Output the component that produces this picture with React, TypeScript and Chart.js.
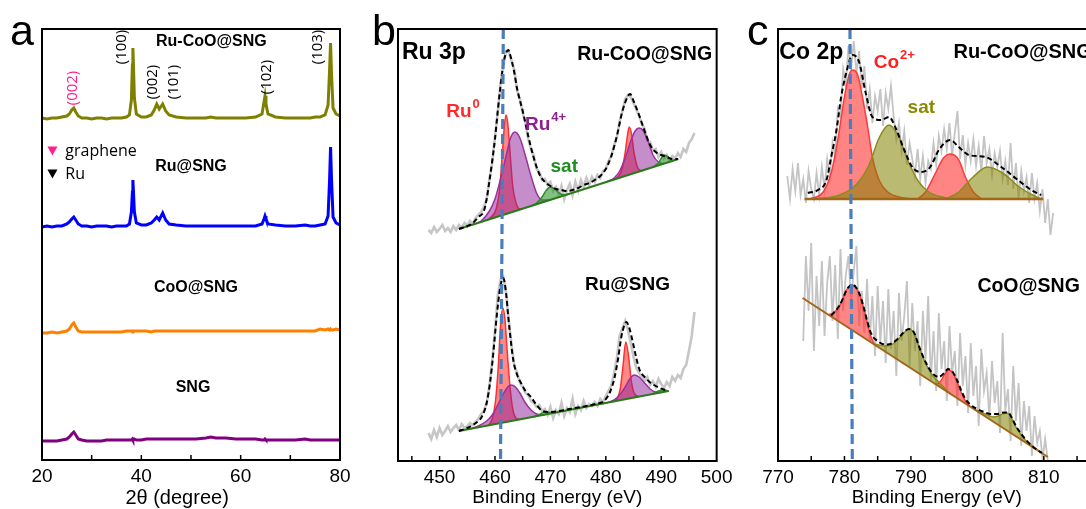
import React, { useEffect, useRef } from 'react';
import { Chart, registerables } from 'chart.js';

Chart.register(...registerables);

// ---------------- Panel a : XRD ----------------
const xrdTheta = [
  20, 21, 22, 23, 24, 25, 25.5, 26, 26.4, 26.8,
  27.3, 28, 29, 30, 31, 32, 33, 34, 35, 36,
  37, 37.6, 38.0, 38.2, 38.3, 38.4, 38.6, 39.0, 40, 41,
  42, 42.6, 43.1, 43.6, 44.3, 44.9, 45.6, 47, 49, 51,
  53, 54, 55, 57, 59, 61, 63, 64.3, 64.7, 64.9,
  65.1, 65.5, 67, 69, 71, 73, 74, 75, 76, 77,
  77.6, 77.9, 78.1, 78.3, 78.6, 79.2, 80,
];
const xrdRuCoO = [
  342, 341, 342, 342, 343, 344, 346, 350, 352, 348,
  344, 342, 342, 341, 342, 342, 341, 342, 342, 342,
  343, 345, 360, 395, 412, 398, 362, 346, 343, 343,
  345, 350, 356, 351, 356, 349, 345, 343, 342, 342,
  342, 343, 342, 342, 342, 342, 343, 346, 358, 364,
  356, 346, 343, 342, 342, 342, 342, 343, 343, 345,
  355, 390, 417, 385, 352, 346, 344,
];
const xrdRu = [
  233, 234, 233, 234, 234, 236, 238, 241, 243, 240,
  236, 234, 234, 233, 234, 234, 234, 233, 234, 234,
  234, 236, 248, 268, 280, 270, 248, 237, 235, 235,
  237, 240, 243, 240, 247, 240, 236, 235, 234, 234,
  234, 234, 234, 234, 234, 234, 234, 236, 241, 244,
  241, 236, 235, 234, 234, 235, 234, 234, 235, 236,
  244, 280, 313, 280, 243, 237, 235,
];
const xrdCoO = [
  127, 127, 128, 127, 128, 129, 131, 135, 137, 133,
  129, 128, 128, 128, 128, 128, 128, 128, 128, 128,
  129, 129, 129, 128, 129, 129, 129, 129, 129, 129,
  128, 129, 129, 129, 129, 129, 129, 129, 129, 129,
  129, 129, 129, 129, 129, 129, 129, 129, 129, 129,
  129, 129, 129, 129, 129, 129, 129, 129, 131, 130,
  131, 130, 131, 130, 130, 131, 130,
];
const xrdSNG = [
  19, 19, 19, 19, 20, 21, 23, 26, 28, 25,
  21, 20, 19, 19, 19, 19, 20, 20, 20, 20,
  20, 20, 20, 21, 20, 20, 21, 20, 20, 21,
  21, 21, 21, 21, 21, 21, 21, 21, 21, 21,
  22, 23, 22, 22, 21, 21, 21, 20, 20, 21,
  20, 20, 20, 20, 20, 21, 20, 20, 20, 20,
  20, 20, 20, 20, 20, 20, 20,
];
const xrdTickLabels = [20, 40, 60, 80];
const xrdMinorTicks = [30, 40, 50, 60, 70];

// ---------------- Panel b : Ru 3p ----------------
const ruRawX = [
  448, 448.5, 449, 449.5, 450, 450.5, 451, 451.5, 452, 452.5,
  453, 453.5, 454, 454.5, 455, 455.5, 456, 456.5, 457, 457.5,
  458, 458.5, 459, 459.5, 460, 460.5, 461, 461.5, 462, 462.5,
  463, 463.5, 464, 464.5, 465, 465.5, 466, 466.5, 467, 467.5,
  468, 468.5, 469, 469.5, 470, 470.5, 471, 471.5, 472, 472.5,
  473, 473.5, 474, 474.5, 475, 475.5, 476, 476.5, 477, 477.5,
  478, 478.5, 479, 479.5, 480, 480.5, 481, 481.5, 482, 482.5,
  483, 483.5, 484, 484.5, 485, 485.5, 486, 486.5, 487, 487.5,
  488, 488.5, 489, 489.5, 490, 490.5, 491, 491.5, 492, 492.5,
  493, 493.5, 494, 494.5, 495, 495.5, 496,
];
const ruCoORaw = [
  231, 228, 234, 229, 232, 236, 230, 233, 229, 235,
  231, 236, 233, 238, 235, 240, 237, 243, 246, 249,
  254, 262, 282, 298, 324, 348, 377, 395, 410, 409,
  400, 391, 370, 362, 348, 338, 322, 312, 305, 292,
  289, 281, 282, 276, 279, 270, 274, 266, 275, 262,
  271, 277, 266, 279, 270, 281, 274, 283, 276, 284,
  279, 286, 283, 290, 292, 300, 305, 316, 324, 340,
  350, 362, 366, 364, 358, 352, 345, 337, 332, 320,
  319, 310, 312, 304, 309, 302, 306, 300, 305, 302,
  308, 304, 312, 309, 318, 322, 328,
];
const ruRaw = [
  28, 22, 31, 24, 33, 26, 30, 35, 29, 33,
  36, 31, 37, 33, 35, 38, 36, 39, 42, 47,
  50, 58, 75, 100, 130, 165, 181, 184, 168, 140,
  115, 95, 88, 78, 74, 68, 66, 60, 58, 54,
  56, 50, 52, 46, 54, 43, 51, 47, 58, 45,
  53, 49, 62, 47, 55, 51, 60, 53, 57, 55,
  59, 55, 62, 58, 65, 70, 76, 88, 103, 125,
  133, 140, 131, 118, 104, 93, 88, 84, 80, 84,
  76, 80, 74, 82, 77, 73, 79, 75, 84, 80,
  86, 83, 92, 96, 110, 125, 149,
];
// Ru-CoO@SNG fit
const ruCoOFitX = [
  453.5, 455, 456, 457, 458, 458.5, 459, 459.5, 460, 460.5,
  461, 461.5, 462, 462.4, 462.8, 463.5, 464, 465, 466, 467,
  468, 469, 470, 471, 472, 473, 474, 475, 476, 477,
  478, 479, 480, 481, 482, 483, 484, 484.4, 485, 486,
  487, 488, 489, 490, 491, 492, 493,
];
const ruCoOFitY = [
  232, 235, 238, 244, 250, 262, 280, 300, 322, 350,
  375, 397, 408, 411, 405, 388, 372, 350, 325, 303,
  287, 279, 275, 272, 271, 270, 271, 273, 276, 278,
  281, 285, 292, 305, 325, 350, 365, 367, 360, 346,
  330, 316, 309, 306, 304, 302, 302,
];
const ruCoOBgX = [453.5, 493.1];
const ruCoOBgY = [232, 302];
const ruCoORu0aX = [458.6, 459.5, 460.2, 460.8, 461.3, 461.7, 462.0, 462.3, 462.7, 463.2, 463.8, 464.5, 465.0];
const ruCoORu0aY = [241, 245, 252, 270, 305, 335, 346, 338, 310, 275, 258, 252, 252.3];
const ruCoORu4aX = [456, 457.5, 459, 460, 461, 462, 462.8, 463.6, 464.5, 465.5, 466.5, 467.5, 468.5, 470];
const ruCoORu4aY = [236.4, 240, 250, 262, 282, 305, 323, 329, 323, 305, 285, 268, 261, 261.2];
const ruCoOSatAX = [466.5, 467.5, 468.5, 469.3, 470, 470.8, 471.6, 472.5, 473.5];
const ruCoOSatAY = [255, 258, 264, 271, 274, 272, 268, 266, 267.4];
const ruCoORu0bX = [481, 482, 482.8, 483.4, 483.9, 484.2, 484.6, 485.1, 485.7, 486.5, 487];
const ruCoORu0bY = [280.6, 283, 290, 305, 325, 334, 328, 308, 294, 290.3, 291.2];
const ruCoORu4bX = [480, 481.5, 482.5, 483.5, 484.5, 485.3, 486, 486.8, 487.6, 488.5, 489.5, 490.5];
const ruCoORu4bY = [278.9, 283, 290, 303, 320, 330, 333, 330, 320, 306, 299, 297.4];
const ruCoOSatBX = [488.5, 489.5, 490.5, 491.3, 492, 492.5];
const ruCoOSatBY = [293.9, 298, 306, 304, 300.5, 301];
// Ru@SNG fit
const ruFitX = [
  453.5, 455, 456, 457, 457.6, 458.5, 459.1, 459.7, 460.3, 460.9,
  461.5, 462, 462.4, 462.9, 463.3, 464, 464.7, 465.5, 466.5, 467.5,
  468.3, 469.5, 471, 473, 475, 477, 478.5, 479.6, 480.5, 481.1,
  481.6, 482.2, 482.8, 483.3, 483.7, 484.3, 484.9, 485.5, 486.1, 487,
  487.9, 489, 490.2, 491.3,
];
const ruFitY = [
  30, 33, 36, 40, 44, 58, 78, 108, 144, 172,
  183, 168, 144, 118, 101, 86, 78, 70, 64, 56,
  51, 49, 49.5, 51.5, 53.5, 55.5, 57.5, 59.5, 66, 74,
  84, 102, 124, 135, 139, 132, 118, 103, 91, 84,
  79, 75, 72, 70,
];
const ruBgX = [453.5, 491.3];
const ruBgY = [30, 70];
const ruRu0aX = [458.8, 459.5, 460.1, 460.6, 461.0, 461.4, 461.8, 462.2, 462.7, 463.2, 463.8, 464.5];
const ruRu0aY = [35.6, 42, 60, 95, 135, 153, 142, 110, 75, 52, 43, 41.6];
const ruRu4aX = [455.5, 457, 458.5, 459.5, 460.5, 461.5, 462.3, 462.9, 463.7, 464.6, 465.5, 466.5, 467.5, 468.5, 469];
const ruRu4aY = [32.1, 35, 40, 46, 56, 67, 74, 76, 74, 67, 58, 51, 47, 46, 46.4];
const ruSatAX = [467, 468, 469, 470, 471];
const ruSatAY = [44.3, 46.5, 49, 48.5, 48.5];
const ruRu0bX = [481.2, 482, 482.6, 483.1, 483.6, 484.1, 484.6, 485.2, 486];
const ruRu0bY = [59.3, 62, 72, 95, 119, 105, 80, 67, 64.4];
const ruRu4bX = [480, 481.5, 482.5, 483.5, 484.3, 485.1, 486, 487, 488, 489, 490];
const ruRu4bY = [58, 61, 66, 74, 82, 86, 84, 78, 72, 69, 68.6];
const ruSatBX = [488.5, 489.5, 490.3, 491.3];
const ruSatBY = [67, 70, 71, 70];
const ruMarkX = [461.5, 461.0];
const ruMarkY = [432, 0];
const ruTickLabels = [450, 460, 470, 480, 490, 500];
const ruMinorTicks = [445, 450, 455, 460, 465, 470, 475, 480, 485, 490, 495];

// ---------------- Panel c : Co 2p ----------------
const coUpRawX = [
  771.4, 771.8, 772.2, 772.6, 773.0, 773.4, 773.8, 774.2, 774.6, 775.0,
  775.4, 775.8, 776.2, 776.6, 777.0, 777.4, 777.8, 778.2, 778.6, 779.0,
  779.4, 779.8, 780.2, 780.6, 781.0, 781.4, 781.8, 782.2, 782.6, 783.0,
  783.4, 783.8, 784.2, 784.6, 785.0, 785.4, 785.8, 786.2, 786.6, 787.0,
  787.4, 787.8, 788.2, 788.6, 789.0, 789.4, 789.8, 790.2, 790.6, 791.0,
  791.4, 791.8, 792.2, 792.6, 793.0, 793.4, 793.8, 794.2, 794.6, 795.0,
  795.4, 795.8, 796.2, 796.6, 797.0, 797.4, 797.8, 798.2, 798.6, 799.0,
  799.4, 799.8, 800.2, 800.6, 801.0, 801.4, 801.8, 802.2, 802.6, 803.0,
  803.4, 803.8, 804.2, 804.6, 805.0, 805.4, 805.8, 806.2, 806.6, 807.0,
  807.4, 807.8, 808.2, 808.6, 809.0, 809.4, 809.8, 810.2, 810.6, 811.0,
  811.4,
];
const coUpRaw = [
  285, 262, 292, 270, 298, 266, 282, 258, 290, 272,
  262, 288, 266, 294, 272, 302, 284, 318, 305, 352,
  345, 392, 376, 415, 392, 420, 388, 410, 372, 395,
  352, 372, 338, 365, 350, 372, 335, 368, 352, 375,
  345, 322, 338, 310, 330, 296, 318, 302, 285, 312,
  282, 305, 278, 300, 292, 318, 296, 325, 310, 332,
  312, 338, 305, 328, 350, 302, 326, 296, 318, 300,
  322, 295, 315, 290, 325, 298, 312, 286, 308, 294,
  310, 282, 300, 276, 318, 272, 298, 262, 290, 270,
  284, 258, 288, 262, 278, 250, 272, 238, 262, 226,
  248,
];
const coLowRawX = [
  773.8, 774.2, 774.6, 775.0, 775.4, 775.8, 776.2, 776.6, 777.0, 777.4,
  777.8, 778.2, 778.6, 779.0, 779.4, 779.8, 780.2, 780.6, 781.0, 781.4,
  781.8, 782.2, 782.6, 783.0, 783.4, 783.8, 784.2, 784.6, 785.0, 785.4,
  785.8, 786.2, 786.6, 787.0, 787.4, 787.8, 788.2, 788.6, 789.0, 789.4,
  789.8, 790.2, 790.6, 791.0, 791.4, 791.8, 792.2, 792.6, 793.0, 793.4,
  793.8, 794.2, 794.6, 795.0, 795.4, 795.8, 796.2, 796.6, 797.0, 797.4,
  797.8, 798.2, 798.6, 799.0, 799.4, 799.8, 800.2, 800.6, 801.0, 801.4,
  801.8, 802.2, 802.6, 803.0, 803.4, 803.8, 804.2, 804.6, 805.0, 805.4,
  805.8, 806.2, 806.6, 807.0, 807.4, 807.8, 808.2, 808.6, 809.0, 809.4,
  809.8, 810.2, 810.6,
];
const coLowRaw = [
  120, 205, 150, 218, 110, 185, 135, 200, 125, 178,
  205, 140, 196, 122, 212, 150, 186, 205, 160, 190,
  215, 135, 170, 128, 182, 120, 165, 105, 175, 118,
  160, 98, 172, 112, 150, 85, 168, 120, 145, 180,
  95, 158, 110, 140, 75, 150, 100, 165, 80, 130,
  70, 148, 92, 120, 60, 135, 88, 110, 55, 128,
  75, 105, 48, 118, 65, 95, 35, 112, 70, 88,
  42, 100, 58, 80, 28, 128, 50, 72, 20, 95,
  40, 78, 15, 60, 30, 55, 5, 45, 18, 30,
  2, 22, 0,
];
// Ru-CoO@SNG Co 2p fit
const coUpFitX = [
  774.5, 776.0, 777.3, 778.0, 778.8, 779.5, 780.3, 781.2, 782.2, 783.2,
  784.2, 785.5, 786.7, 787.7, 789.0, 790.2, 791.5, 792.9, 794.2, 795.9,
  797.2, 798.7, 801.2, 803.6, 806.1, 808.1, 809.6,
];
const coUpFitY = [
  268, 271, 281, 304, 331, 364, 389, 406, 399, 368,
  344, 341, 344, 333, 311, 294, 289, 294, 311, 321,
  314, 306, 304, 294, 281, 271, 266,
];
const coUpBgX = [774.0, 809.9];
const coUpBgY = [262, 262];
const coUpCo1X = [774.8, 776.8, 778.0, 779.0, 780.0, 780.7, 781.2, 782.0, 782.7, 783.5, 784.2, 785.2, 786.5, 788.2, 790.2];
const coUpCo1Y = [262, 269, 288, 321, 364, 386, 391, 386, 364, 334, 304, 281, 269, 264, 262];
const coUpCo2X = [791.0, 792.2, 793.7, 794.9, 796.0, 797.2, 798.2, 799.4, 800.7];
const coUpCo2Y = [262, 269, 288, 303, 307, 301, 284, 269, 262];
const coUpSat1X = [775.8, 779.3, 781.7, 783.7, 785.2, 786.7, 788.2, 789.7, 791.2, 792.7, 794.7, 796.7];
const coUpSat1Y = [262, 266, 276, 296, 323, 336, 324, 298, 279, 269, 264, 262];
const coUpSat2X = [795.2, 797.2, 799.2, 801.5, 803.8, 806.3, 808.3, 809.6];
const coUpSat2Y = [262, 269, 283, 294, 288, 274, 266, 262];
// CoO@SNG Co 2p fit
const coLowFitX = [
  778.0, 778.5, 779.2, 779.8, 780.3, 780.8, 781.2, 781.7, 782.2, 782.8,
  783.3, 783.8, 784.3, 785.0, 785.7, 786.5, 787.2, 788.0, 788.8, 789.7,
  790.5, 791.2, 792.2, 793.2, 794.2, 795.0, 795.6, 796.3, 797.0, 797.6,
  798.2, 799.0, 800.0, 801.0, 802.0, 803.0, 804.0, 804.6, 805.2, 805.8,
  806.5, 807.2, 808.0, 808.8, 809.7,
];
const coLowFitY = [
  145.5, 149, 155, 163, 171, 175, 176.5, 174, 168, 156,
  143, 131, 124, 120, 117, 116.5, 118, 122, 128, 132,
  128, 115, 99, 88, 84, 88, 92, 89, 80, 70,
  62, 56, 52, 49, 47, 47, 48.5, 48.5, 43, 35,
  28, 22, 16.5, 12, 8,
];
const coLowBgX = [773.7, 810.6];
const coLowBgY = [163, 4];
const coLowCo1X = [777.6, 778.3, 779.2, 779.8, 780.3, 780.8, 781.2, 781.7, 782.2, 782.8, 783.3, 783.8, 784.4, 784.9];
const coLowCo1Y = [146.2, 148, 154, 163, 171, 175, 176, 173, 168, 155, 142, 128, 118, 114.7];
const coLowSat1X = [784.3, 785.2, 786.0, 787.0, 788.0, 788.8, 789.7, 790.5, 791.2, 792.2, 793.2, 794.2, 795.2, 796.0];
const coLowSat1Y = [117.3, 116, 115, 116, 121, 127, 131.7, 127.7, 114.3, 97.7, 86, 79, 72, 66.9];
const coLowCo2X = [793.8, 794.5, 795.0, 795.7, 796.3, 797.0, 797.6, 798.2, 798.8];
const coLowCo2Y = [76.4, 80, 86, 91, 88, 78, 68, 60, 54.8];
const coLowSat2X = [799.5, 800.5, 801.5, 802.5, 803.3, 804.0, 804.6, 805.2, 805.8, 806.5, 807.2, 808.0, 808.8, 809.7];
const coLowSat2Y = [51.8, 49, 46, 44, 45.5, 47.5, 47.7, 42, 34, 27, 21, 16.5, 12.5, 7.9];
const coMarkX = [780.83, 781.18];
const coMarkY = [432, 0];
const coTickLabels = [770, 780, 790, 800, 810];
const coMinorTicks = [775, 780, 785, 790, 795, 800, 805, 810, 815];

// ---------------- styling helpers ----------------
const SANS = '"Liberation Sans", Arial, sans-serif';
const OPEN = '"Open Sans", "Liberation Sans", sans-serif';
const MAGENTA = '#ff1f8e';

const pts = (xs: number[], ys: number[]) => {
  const n = Math.min(xs.length, ys.length);
  const out: { x: number; y: number }[] = [];
  for (let i = 0; i < n; i++) out.push({ x: xs[i], y: ys[i] });
  return out;
};

function lineDs(xs: number[], ys: number[], color: string, width: number, order: number, extra: any = {}) {
  return {
    data: pts(xs, ys),
    borderColor: color,
    borderWidth: width,
    pointRadius: 0,
    pointHoverRadius: 0,
    fill: false,
    tension: 0,
    order,
    ...extra,
  };
}
const compDs = (xs: number[], ys: number[], stroke: string, fillC: string, order: number) =>
  lineDs(xs, ys, stroke, 1.5, order, { fill: 'shape', backgroundColor: fillC, cubicInterpolationMode: 'monotone' });
const fitDs = (xs: number[], ys: number[]) =>
  lineDs(xs, ys, '#000', 2, 3, { borderDash: [5, 3], cubicInterpolationMode: 'monotone' });
const markDs = (xs: number[], ys: number[]) => lineDs(xs, ys, '#4a7ebb', 3.2, 1, { borderDash: [10, 5] });

type TextItem = {
  t: string; x: number; y: number; size: number; bold?: boolean; color?: string;
  align?: 'left' | 'center'; rot?: number; sup?: string; fam?: string;
};

function drawText(ctx: CanvasRenderingContext2D, it: TextItem, xs: any, ys: any) {
  const px = xs.getPixelForValue(it.x);
  const py = ys.getPixelForValue(it.y);
  const fam = it.fam || SANS;
  const mainFont = `${it.bold ? 'bold ' : ''}${it.size}px ${fam}`;
  const supFont = `${it.bold ? 'bold ' : ''}${Math.round(it.size * 0.68)}px ${fam}`;
  ctx.fillStyle = it.color || '#000';
  ctx.textBaseline = 'middle';
  ctx.font = mainFont;
  if (it.rot) {
    ctx.save();
    ctx.translate(px, py);
    ctx.rotate((it.rot * Math.PI) / 180);
    ctx.textAlign = 'center';
    ctx.fillText(it.t, 0, 0);
    ctx.restore();
    return;
  }
  const w = ctx.measureText(it.t).width;
  let sw = 0;
  if (it.sup) {
    ctx.font = supFont;
    sw = ctx.measureText(it.sup).width + 1;
    ctx.font = mainFont;
  }
  const x0 = it.align === 'center' ? px - (w + sw) / 2 : px;
  ctx.textAlign = 'left';
  ctx.fillText(it.t, x0, py);
  if (it.sup) {
    ctx.font = supFont;
    ctx.fillText(it.sup, x0 + w + 1, py - it.size * 0.42);
  }
}

function makeDecor(d: any) {
  return {
    id: 'decor',
    afterDraw(chart: any) {
      const { ctx, chartArea: a } = chart;
      const xs = chart.scales.x;
      const ys = chart.scales.y;
      ctx.save();
      ctx.strokeStyle = '#000';
      ctx.lineWidth = 1.5;
      for (const v of d.minor) {
        const px = xs.getPixelForValue(v);
        if (px <= a.left + 1.5 || px >= a.right - 1.5) continue;
        ctx.beginPath();
        ctx.moveTo(px, a.bottom);
        ctx.lineTo(px, a.bottom - 5);
        ctx.stroke();
      }
      ctx.lineWidth = 2;
      ctx.strokeRect(a.left, a.top, a.right - a.left, a.bottom - a.top);
      for (const it of d.texts) drawText(ctx, it, xs, ys);
      for (const m of d.tris || []) {
        const px = xs.getPixelForValue(m.x);
        const py = ys.getPixelForValue(m.y);
        ctx.fillStyle = m.color;
        ctx.beginPath();
        ctx.moveTo(px - 5, py - 4.5);
        ctx.lineTo(px + 5, py - 4.5);
        ctx.lineTo(px, py + 4.5);
        ctx.closePath();
        ctx.fill();
      }
      ctx.font = `43px ${SANS}`;
      ctx.fillStyle = '#000';
      ctx.textAlign = 'left';
      ctx.textBaseline = 'alphabetic';
      ctx.fillText(d.letter, d.letterX, d.letterY);
      ctx.restore();
    },
  };
}

function makeConfig(p: any) {
  return {
    type: 'line',
    data: { datasets: p.datasets },
    options: {
      responsive: false,
      maintainAspectRatio: false,
      animation: false,
      events: [],
      layout: { padding: p.padding },
      plugins: { legend: { display: false }, tooltip: { enabled: false } },
      scales: {
        x: {
          type: 'linear',
          min: p.xmin,
          max: p.xmax,
          afterBuildTicks: (s: any) => {
            s.ticks = p.tickLabels.map((v: number) => ({ value: v }));
          },
          grid: { display: false, drawTicks: false, tickLength: 0 },
          border: { display: false },
          ticks: {
            color: '#000',
            font: { family: SANS, size: 19, lineHeight: 1 },
            padding: 7.5,
            maxRotation: 0,
            autoSkip: false,
          },
        },
        y: { type: 'linear', display: false, min: 0, max: p.ymax },
      },
    },
    plugins: [makeDecor(p.decor)],
  };
}

// ---------------- panel configs ----------------
const configA = () =>
  makeConfig({
    xmin: 20, xmax: 80, ymax: 431,
    tickLabels: xrdTickLabels,
    padding: { left: 42, right: 20, top: 29, bottom: 15 },
    datasets: [
      lineDs(xrdTheta, xrdSNG, '#800080', 3, 4),
      lineDs(xrdTheta, xrdCoO, '#ff8000', 3, 3),
      lineDs(xrdTheta, xrdRu, '#0000ff', 3, 2),
      lineDs(xrdTheta, xrdRuCoO, '#808000', 3, 1),
    ],
    decor: {
      minor: xrdMinorTicks,
      letter: 'a', letterX: 10, letterY: 45,
      texts: [
        { t: 'Ru-CoO@SNG', x: 54.1, y: 418, size: 16, bold: true, align: 'center' },
        { t: 'Ru@SNG', x: 50.0, y: 293, size: 16, bold: true, align: 'center' },
        { t: 'CoO@SNG', x: 51.0, y: 172, size: 16, bold: true, align: 'center' },
        { t: 'SNG', x: 50.4, y: 72, size: 16, bold: true, align: 'center' },
        { t: '(002)', x: 26.1, y: 372, size: 15, rot: -90, fam: OPEN, color: MAGENTA },
        { t: '(100)', x: 36.1, y: 413, size: 15, rot: -90, fam: OPEN },
        { t: '(002)', x: 42.2, y: 378, size: 15, rot: -90, fam: OPEN },
        { t: '(101)', x: 46.6, y: 378, size: 15, rot: -90, fam: OPEN },
        { t: '(102)', x: 65.3, y: 383, size: 15, rot: -90, fam: OPEN },
        { t: '(103)', x: 75.6, y: 413, size: 15, rot: -90, fam: OPEN },
        { t: 'graphene', x: 24.7, y: 309, size: 16, fam: OPEN, align: 'left' },
        { t: 'Ru', x: 24.7, y: 286, size: 16, fam: OPEN, align: 'left' },
        { t: '2θ (degree)', x: 47.2, y: -38, size: 20, align: 'center' },
      ],
      tris: [
        { x: 22.1, y: 309, color: MAGENTA },
        { x: 22.1, y: 286, color: '#000' },
      ],
    },
  });

const RU0_S = '#ff3030';
const RU0_F = 'rgba(255,40,40,0.55)';
const RU4_S = '#9b30a0';
const RU4_F = 'rgba(140,30,150,0.5)';
const SAT_S = '#2e8b2e';
const SAT_F = 'rgba(50,150,50,0.6)';

const configB = () =>
  makeConfig({
    xmin: 442.5, xmax: 500, ymax: 432,
    tickLabels: ruTickLabels,
    padding: { left: 38, right: 18, top: 28, bottom: 15 },
    datasets: [
      lineDs(ruRawX, ruCoORaw, '#c6c6c6', 2.6, 20),
      lineDs(ruRawX, ruRaw, '#c6c6c6', 2.6, 20),
      compDs(ruCoORu0aX, ruCoORu0aY, RU0_S, RU0_F, 12),
      compDs(ruCoORu0bX, ruCoORu0bY, RU0_S, RU0_F, 12),
      compDs(ruCoORu4aX, ruCoORu4aY, RU4_S, RU4_F, 11),
      compDs(ruCoORu4bX, ruCoORu4bY, RU4_S, RU4_F, 11),
      compDs(ruCoOSatAX, ruCoOSatAY, SAT_S, SAT_F, 10),
      compDs(ruCoOSatBX, ruCoOSatBY, SAT_S, SAT_F, 10),
      compDs(ruRu0aX, ruRu0aY, RU0_S, RU0_F, 12),
      compDs(ruRu0bX, ruRu0bY, RU0_S, RU0_F, 12),
      compDs(ruRu4aX, ruRu4aY, RU4_S, RU4_F, 11),
      compDs(ruRu4bX, ruRu4bY, RU4_S, RU4_F, 11),
      compDs(ruSatAX, ruSatAY, SAT_S, SAT_F, 10),
      compDs(ruSatBX, ruSatBY, SAT_S, SAT_F, 10),
      lineDs(ruCoOBgX, ruCoOBgY, '#2a7a1a', 2, 5),
      lineDs(ruBgX, ruBgY, '#2a7a1a', 2, 5),
      fitDs(ruCoOFitX, ruCoOFitY),
      fitDs(ruFitX, ruFitY),
      markDs(ruMarkX, ruMarkY),
    ],
    decor: {
      minor: ruMinorTicks,
      letter: 'b', letterX: 12, letterY: 44,
      texts: [
        { t: 'Ru 3p', x: 443.2, y: 408, size: 23, bold: true, align: 'left' },
        { t: 'Ru-CoO@SNG', x: 487.0, y: 406, size: 19.5, bold: true, align: 'center' },
        { t: 'Ru', sup: '0', x: 451.2, y: 349, size: 19, bold: true, color: '#ff2b2b', align: 'left' },
        { t: 'Ru', sup: '4+', x: 465.4, y: 336, size: 19, bold: true, color: '#8e1f8e', align: 'left' },
        { t: 'sat', x: 472.5, y: 294, size: 19, bold: true, color: '#1e8c1e', align: 'center' },
        { t: 'Ru@SNG', x: 483.9, y: 176, size: 19, bold: true, align: 'center' },
        { t: 'Binding Energy (eV)', x: 471.25, y: -37, size: 19, align: 'center' },
      ],
    },
  });

const CO_S = '#ff3a3a';
const CO_F = 'rgba(255,50,50,0.6)';
const CS_S = '#8c8c1a';
const CS_F = 'rgba(130,130,0,0.55)';
const CO_BG = '#a0661a';

const configC = () =>
  makeConfig({
    xmin: 770, xmax: 818, ymax: 432,
    tickLabels: coTickLabels,
    padding: { left: 38, right: 23, top: 28, bottom: 15 },
    datasets: [
      lineDs(coUpRawX, coUpRaw, '#c4c4c4', 1.8, 20),
      lineDs(coLowRawX, coLowRaw, '#c4c4c4', 1.8, 20),
      compDs(coUpCo1X, coUpCo1Y, CO_S, CO_F, 12),
      compDs(coUpCo2X, coUpCo2Y, CO_S, CO_F, 12),
      compDs(coUpSat1X, coUpSat1Y, CS_S, CS_F, 11),
      compDs(coUpSat2X, coUpSat2Y, CS_S, CS_F, 11),
      compDs(coLowCo1X, coLowCo1Y, CO_S, CO_F, 12),
      compDs(coLowCo2X, coLowCo2Y, CO_S, CO_F, 12),
      compDs(coLowSat1X, coLowSat1Y, CS_S, CS_F, 11),
      compDs(coLowSat2X, coLowSat2Y, CS_S, CS_F, 11),
      lineDs(coUpBgX, coUpBgY, CO_BG, 2.5, 5),
      lineDs(coLowBgX, coLowBgY, CO_BG, 2, 5),
      fitDs(coUpFitX, coUpFitY),
      fitDs(coLowFitX, coLowFitY),
      markDs(coMarkX, coMarkY),
    ],
    decor: {
      minor: coMinorTicks,
      letter: 'c', letterX: 7, letterY: 44,
      texts: [
        { t: 'Co 2p', x: 770.2, y: 408, size: 23, bold: true, align: 'left' },
        { t: 'Ru-CoO@SNG', x: 796.4, y: 409, size: 20, bold: true, align: 'left' },
        { t: 'Co', sup: '2+', x: 784.4, y: 398, size: 19, bold: true, color: '#ff2020', align: 'left' },
        { t: 'sat', x: 789.5, y: 353, size: 19, bold: true, color: '#8a8a00', align: 'left' },
        { t: 'CoO@SNG', x: 800.0, y: 174, size: 19.5, bold: true, align: 'left' },
        { t: 'Binding Energy (eV)', x: 793.9, y: -37, size: 19, align: 'center' },
      ],
    },
  });

function ChartCanvas(props: { cfg: () => any; left: number; top: number; width: number; height: number }) {
  const ref = useRef<HTMLCanvasElement | null>(null);
  useEffect(() => {
    if (!ref.current) return;
    const chart = new Chart(ref.current, props.cfg());
    return () => chart.destroy();
  }, []);
  return (
    <canvas
      ref={ref}
      width={props.width}
      height={props.height}
      style={{ position: 'absolute', left: props.left, top: props.top, width: props.width, height: props.height }}
    />
  );
}

export default function App() {
  return (
    <div
      style={{
        position: 'fixed', left: 0, top: 0, width: 1086, height: 509,
        overflow: 'hidden', background: '#fff',
      }}
    >
      <ChartCanvas cfg={configA} left={0} top={0} width={360} height={509} />
      <ChartCanvas cfg={configB} left={360} top={1} width={380} height={509} />
      <ChartCanvas cfg={configC} left={740} top={1} width={380} height={509} />
    </div>
  );
}
